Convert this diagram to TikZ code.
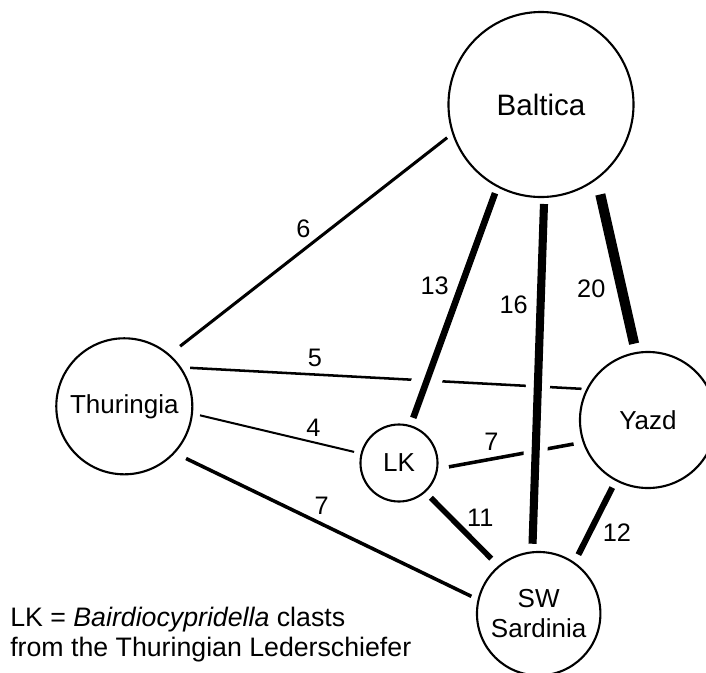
\documentclass[tikz,border=0pt]{standalone}
\usepackage{fontspec}
\setmainfont{Liberation Sans}

\begin{document}
\begin{tikzpicture}[x=0.025cm,y=-0.025cm]
  \tikzset{region/.style={draw,circle,line width=1.5pt,outer sep=0pt,inner sep=0pt,minimum size=#1,font=\fontsize{18.5}{21.3}\selectfont},
           link/.style n args={3}{line width=#1*0.36pt,shorten <=#2,shorten >=#3},
           halo/.style={preaction={draw=white,line width=#1}},
           weight/.style={font=\fontsize{18}{20}\selectfont,inner sep=0pt},
           key/.style={anchor=base west,inner sep=0pt,font=\fontsize{19}{21}\selectfont}}
  \useasboundingbox (0,0) rectangle (706,673);
  \clip (0,0) rectangle (706,673);
  \node [region=4.625cm,font=\fontsize{21}{24}\selectfont] (balt) at (541,104.5) {Baltica};
  \node [region=3.4cm] (thur) at (124.3,406.3) {Thuringia};
  \node [region=1.925cm] (lk) at (399,463) {LK};
  \node [region=3.4cm] (yazd) at (648,420) {Yazd};
  \node [region=3.085cm,align=center] (sard) at (538.7,613.7) {SW\\Sardinia};
  \draw [link={6}{10.1pt}{5.3pt}] (thur.49.2) -- (balt.198.4);
  \draw [link={5}{7.2pt}{4.2pt}] (thur.35.2) -- (yazd.153.4);
  \draw [link={4}{5.9pt}{5.5pt}] (thur.-6) -- (lk.166.2);
  \draw [link={7}{9.5pt}{5.7pt}] (thur.-43.2) -- (sard.167);
  \draw [link={7}{8.6pt}{7.3pt}] (lk.-9.3) -- (yazd.199.3);
  \draw [link={11}{6.2pt}{7.8pt}] (lk.-48.5) -- (sard.130);
  \draw [link={12}{6pt}{6.8pt}] (yazd.242.1) -- (sard.55.6);
  \draw [link={20}{11.7pt}{6.8pt}] (balt.-53.5) -- (yazd.100);
  \draw [link={13}{5.3pt}{6.3pt},halo=21pt] (balt.242.2) -- (lk.73.5);
  \draw [link={16}{5pt}{6.1pt},halo=17pt] (balt.-88.2) -- (sard.96.2);
  \node [weight] (w6) at (303.3,228.3) {6};
  \node [weight] (w13) at (434.7,286) {13};
  \node [weight] (w16) at (513.7,305) {16};
  \node [weight] (w20) at (591.3,288.3) {20};
  \node [weight] (w5) at (315,357.7) {5};
  \node [weight] (w4) at (313.3,427.7) {4};
  \node [weight] (w7a) at (321.7,505.3) {7};
  \node [weight] (w7b) at (491.3,442) {7};
  \node [weight] (w11) at (480.3,518) {11};
  \node [weight] (w12) at (617,533) {12};
  \node [key] (key1) at (10,626) {LK = \textit{Bairdiocypridella} clasts};
  \node [key] (key2) at (10,656) {from the Thuringian Lederschiefer};
\end{tikzpicture}
\end{document}
